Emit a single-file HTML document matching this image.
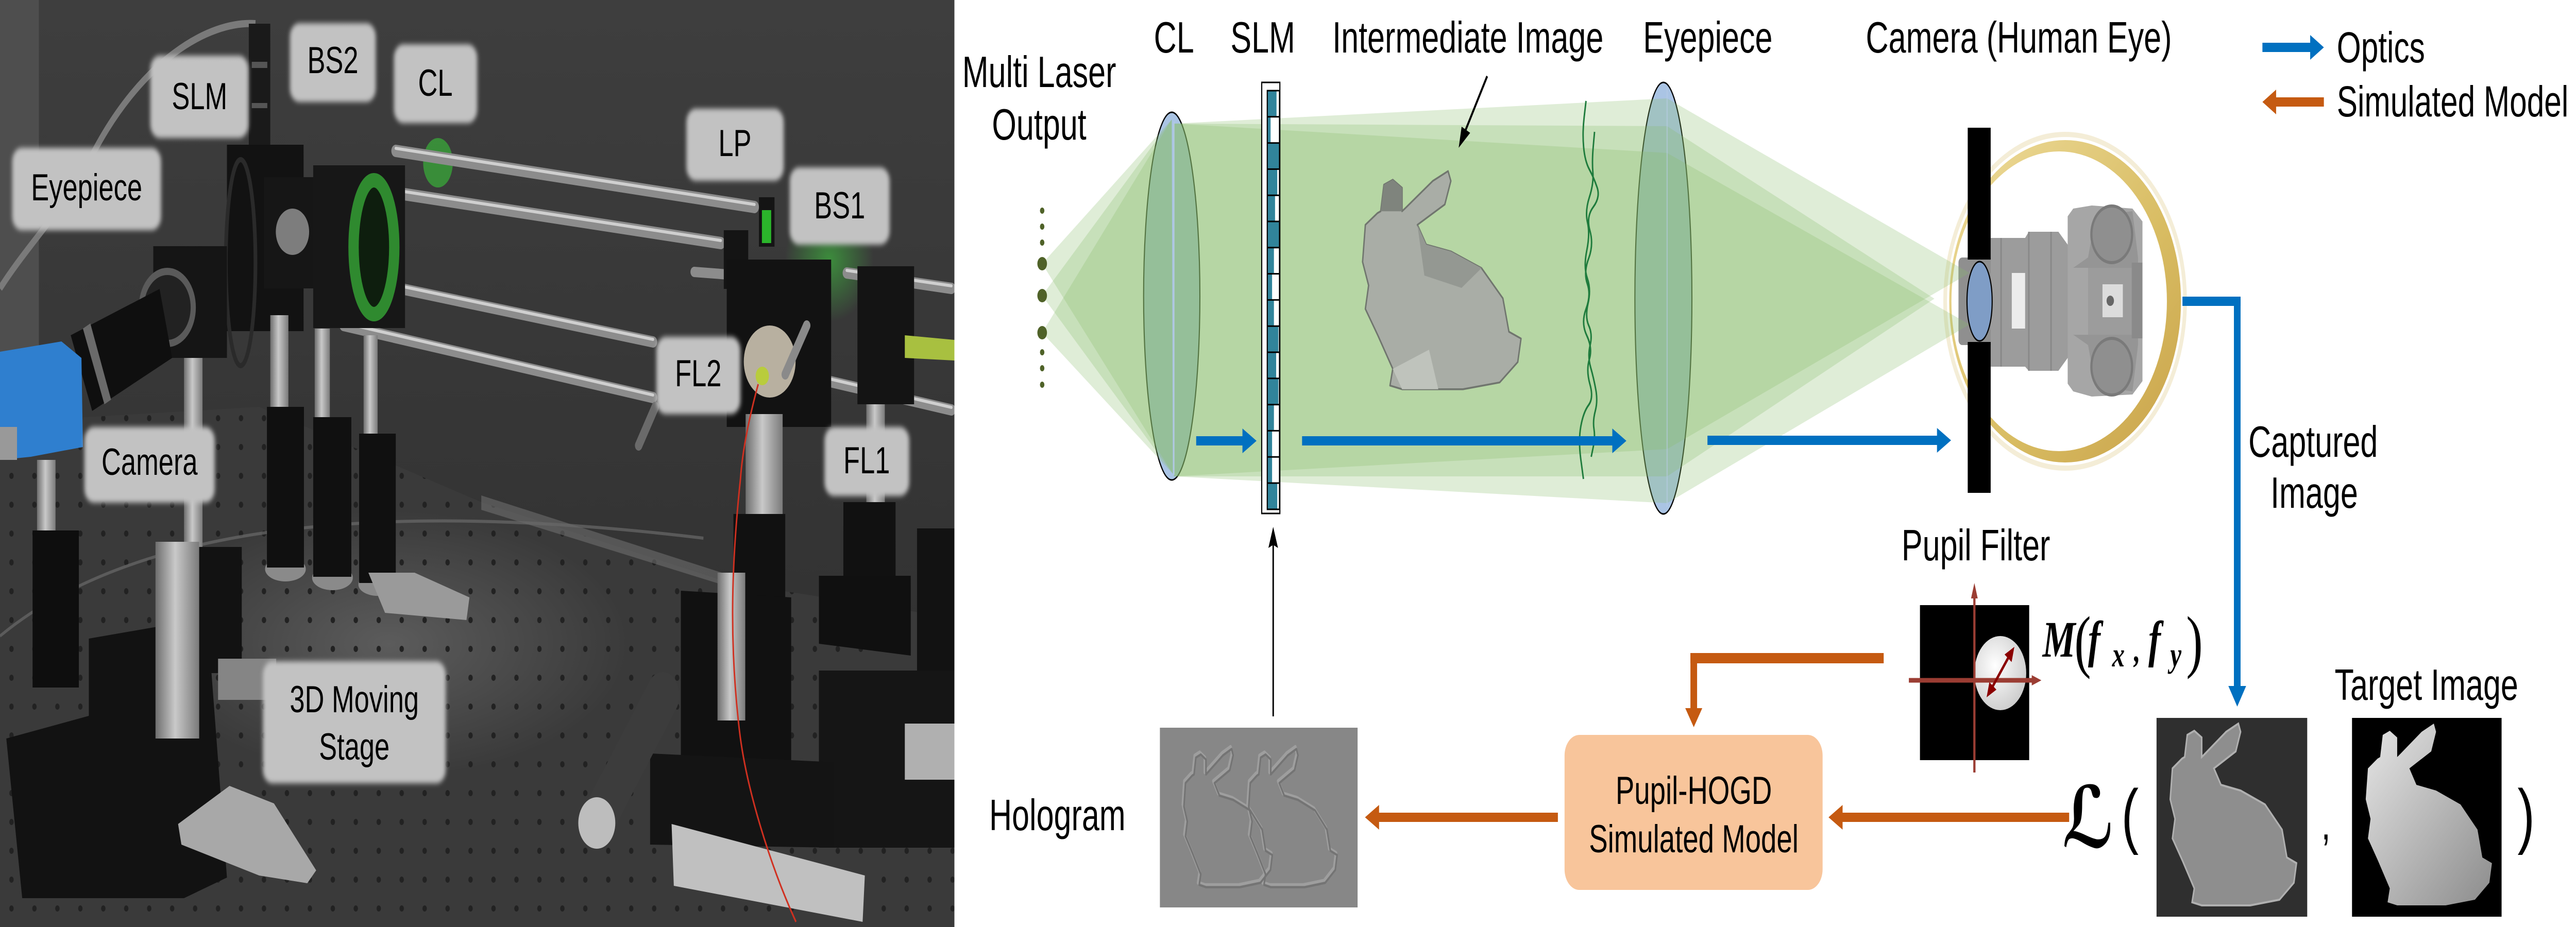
<!DOCTYPE html>
<html><head><meta charset="utf-8"><style>
html,body{margin:0;padding:0;background:#fff;width:100%;height:100%;overflow:hidden;}
svg{display:block;width:100vw;height:100vh;}
text{font-family:"Liberation Sans",Arial,sans-serif;}
</style></head><body>
<svg viewBox="0 0 6958 1800" preserveAspectRatio="none" xmlns="http://www.w3.org/2000/svg">
<defs>
<clipPath id="pc"><rect x="0" y="0" width="2578" height="1800"/></clipPath>
<pattern id="holes" width="62" height="56" patternUnits="userSpaceOnUse"><circle cx="31" cy="28" r="6" fill="#222"/></pattern>
<linearGradient id="wall" x1="0" y1="0" x2="0" y2="1"><stop offset="0" stop-color="#3e3e3e"/><stop offset="1" stop-color="#323232"/></linearGradient>
<radialGradient id="tablehl" cx=".5" cy=".5" r=".5"><stop offset="0" stop-color="#6a6a6a" stop-opacity=".7"/><stop offset="1" stop-color="#6a6a6a" stop-opacity="0"/></radialGradient>
<linearGradient id="silv" x1="0" y1="0" x2="1" y2="0"><stop offset="0" stop-color="#6e6e6e"/><stop offset=".45" stop-color="#c9c9c9"/><stop offset="1" stop-color="#7a7a7a"/></linearGradient>
<linearGradient id="gold" x1="0" y1="0" x2="1" y2="1"><stop offset="0" stop-color="#eedc9c"/><stop offset=".6" stop-color="#d8bc62"/><stop offset="1" stop-color="#c9a24a"/></linearGradient>
<radialGradient id="gglow"><stop offset="0" stop-color="#3fd13f" stop-opacity=".55"/><stop offset="1" stop-color="#3fd13f" stop-opacity="0"/></radialGradient>
<radialGradient id="pupil" cx=".4" cy=".4" r=".7"><stop offset="0" stop-color="#ffffff"/><stop offset="1" stop-color="#c8c8c8"/></radialGradient>
<linearGradient id="tbun" x1="0" y1="0" x2="1" y2="1"><stop offset="0" stop-color="#e6e6e6"/><stop offset="1" stop-color="#8c8c8c"/></linearGradient>
<filter id="soft" x="-10%" y="-10%" width="120%" height="120%"><feGaussianBlur stdDeviation="5"/></filter>
<path id="bun" d="M43,98 L69,79 L76,76 L83,33 L102,25 L122,38 L122,76 L129,71 L188,27 L221,11 L227,27 L214,65 L155,98 L174,130 L227,141 L293,168 L339,217 L352,271 L378,282 L371,320 L332,353 L253,364 L122,364 L96,358 L102,331 L70,277 L43,234 L50,196 L37,158 Z"/>
</defs>

<!-- ================= PHOTO ================= -->
<g clip-path="url(#pc)">
<rect x="0" y="0" width="2578" height="1800" fill="#303030"/>
<rect x="0" y="0" width="2578" height="1250" fill="url(#wall)"/>
<polygon points="0,0 105,0 105,760 0,800" fill="#4e4e4e"/>
<polygon points="0,820 700,790 1300,975 1963,1130 2578,1200 2578,1800 0,1800" fill="#3a3a3a"/>
<ellipse cx="1050" cy="1250" rx="650" ry="260" fill="url(#tablehl)"/>
<polygon points="0,820 700,790 1300,975 1963,1130 2578,1200 2578,1800 0,1800" fill="url(#holes)"/>
<polygon points="1300,962 1963,1115 1963,1138 1300,990" fill="#777" opacity=".5"/>
<path d="M0,1235 Q520,925 1900,1045" stroke="#6a6a6a" stroke-width="6" fill="none" opacity=".7"/>
<path d="M690,46 C560,40 380,120 250,300 C170,410 80,470 0,560" stroke="#7a7a7a" stroke-width="14" fill="none"/>
<circle cx="2240" cy="505" r="120" fill="url(#gglow)"/>
<ellipse cx="1183" cy="316" rx="40" ry="48" fill="#3a9c3a" opacity=".85"/>
<g stroke-linecap="round">
<line x1="1069" y1="293" x2="2038" y2="402" stroke="#8c8c8c" stroke-width="24"/>
<line x1="1069" y1="288" x2="2038" y2="397" stroke="#cfcfcf" stroke-width="6"/>
<line x1="912" y1="357" x2="1947" y2="472" stroke="#8c8c8c" stroke-width="24"/>
<line x1="912" y1="352" x2="1947" y2="467" stroke="#cfcfcf" stroke-width="6"/>
<line x1="1086" y1="561" x2="1764" y2="664" stroke="#8c8c8c" stroke-width="22"/>
<line x1="1086" y1="556" x2="1764" y2="659" stroke="#cfcfcf" stroke-width="6"/>
<line x1="928" y1="632" x2="1764" y2="772" stroke="#8c8c8c" stroke-width="22"/>
<line x1="928" y1="627" x2="1764" y2="767" stroke="#cfcfcf" stroke-width="6"/>
<line x1="497" y1="536" x2="854" y2="421" stroke="#8a8a8a" stroke-width="20"/>
<line x1="580" y1="606" x2="760" y2="540" stroke="#8a8a8a" stroke-width="18"/>
<line x1="2287" y1="530" x2="2570" y2="560" stroke="#8c8c8c" stroke-width="22"/>
<line x1="2287" y1="525" x2="2570" y2="555" stroke="#cfcfcf" stroke-width="6"/>
<line x1="2237" y1="740" x2="2570" y2="796" stroke="#8c8c8c" stroke-width="22"/>
<line x1="2237" y1="735" x2="2570" y2="791" stroke="#cfcfcf" stroke-width="6"/>
<line x1="1875" y1="528" x2="1965" y2="533" stroke="#8c8c8c" stroke-width="20"/>
</g>
<rect x="672" y="46" width="58" height="298" fill="#1a1a1a"/>
<rect x="680" y="120" width="42" height="12" fill="#555"/>
<rect x="680" y="200" width="42" height="10" fill="#555"/>
<rect x="613" y="281" width="207" height="362" fill="#121212"/>
<ellipse cx="650" cy="510" rx="40" ry="200" fill="none" stroke="#2a2a2a" stroke-width="10"/>
<rect x="713" y="344" width="157" height="216" fill="#161616"/>
<circle cx="790" cy="450" r="45" fill="#7d7d7d"/>
<rect x="846" y="321" width="248" height="316" fill="#171717"/>
<ellipse cx="1010" cy="480" rx="55" ry="130" fill="#0e1e0e" stroke="#2f8a2f" stroke-width="28"/>
<rect x="414" y="478" width="199" height="217" fill="#151515"/>
<circle cx="452" cy="597" r="70" fill="#222" stroke="#5a5a5a" stroke-width="14"/>
<polygon points="191,651 249,798 465,695 431,561" fill="#0f0f0f"/>
<polygon points="224,638 282,785 300,776 244,628" fill="#6a6a6a"/>
<polygon points="0,683 166,663 220,695 224,868 83,887 0,893" fill="#2f7fcf"/>
<rect x="0" y="829" width="46" height="64" fill="#999"/>
<rect x="100" y="893" width="50" height="140" fill="url(#silv)"/>
<rect x="88" y="1030" width="125" height="305" fill="#0e0e0e"/>
<rect x="497" y="695" width="50" height="385" fill="url(#silv)"/>
<rect x="535" y="1062" width="118" height="245" fill="#121212"/>
<rect x="730" y="612" width="49" height="190" fill="url(#silv)"/>
<rect x="850" y="638" width="41" height="180" fill="url(#silv)"/>
<rect x="982" y="651" width="38" height="200" fill="url(#silv)"/>
<ellipse cx="771" cy="1105" rx="55" ry="24" fill="#8a8a8a"/>
<ellipse cx="898" cy="1122" rx="55" ry="24" fill="#8a8a8a"/>
<ellipse cx="1020" cy="1135" rx="52" ry="22" fill="#8a8a8a"/>
<rect x="721" y="790" width="100" height="312" fill="#101010"/>
<rect x="846" y="810" width="103" height="310" fill="#101010"/>
<rect x="970" y="842" width="99" height="290" fill="#101010"/>
<polygon points="995,1112 1120,1112 1268,1160 1260,1204 1040,1190" fill="#9a9a9a"/>
<polygon points="17,1434 240,1390 240,1240 560,1200 613,1704 497,1744 60,1744" fill="#121212"/>
<rect x="589" y="1279" width="157" height="80" fill="#858585"/>
<rect x="420" y="1052" width="118" height="382" fill="url(#silv)"/>
<polygon points="481,1600 620,1526 740,1560 854,1690 830,1715 700,1700 490,1640" fill="#a8a8a8"/>
<rect x="1955" y="447" width="66" height="114" fill="#141414"/>
<rect x="2050" y="383" width="42" height="96" fill="#141414"/>
<rect x="2058" y="408" width="25" height="64" fill="#2bb52b"/>
<rect x="1963" y="504" width="282" height="325" fill="#121212"/>
<circle cx="2079" cy="702" r="70" fill="#b8b0a0"/>
<circle cx="2059" cy="730" r="18" fill="#b9cc3c"/>
<line x1="2179" y1="632" x2="2121" y2="727" stroke="#8a8a8a" stroke-width="20" stroke-linecap="round"/>
<line x1="1770" y1="790" x2="1725" y2="865" stroke="#6a6a6a" stroke-width="20" stroke-linecap="round"/>
<rect x="2316" y="517" width="153" height="268" fill="#141414"/>
<polygon points="2444,651 2578,660 2578,700 2444,695" fill="#a8c040"/>
<rect x="2014" y="804" width="100" height="196" fill="url(#silv)"/>
<rect x="1981" y="998" width="140" height="200" fill="#111"/>
<rect x="2340" y="785" width="50" height="190" fill="url(#silv)"/>
<rect x="2278" y="975" width="141" height="235" fill="#111"/>
<rect x="2477" y="1026" width="101" height="333" fill="#121212"/>
<polygon points="2212,1118 2460,1118 2460,1273 2212,1250" fill="#101010"/>
<rect x="2212" y="1302" width="366" height="344" fill="#151515"/>
<rect x="2444" y="1405" width="134" height="109" fill="#b0b0b0"/>
<polygon points="1839,1147 2137,1160 2137,1617 1839,1600" fill="#111"/>
<polygon points="1756,1463 2253,1480 2253,1646 1756,1640" fill="#141414"/>
<rect x="1938" y="1112" width="75" height="287" fill="url(#silv)"/>
<line x1="1610" y1="1600" x2="1790" y2="1350" stroke="#3c3c3c" stroke-width="90" stroke-linecap="round"/>
<circle cx="1612" cy="1598" r="50" fill="#bdbdbd"/>
<polygon points="1814,1600 2336,1700 2330,1790 1820,1720" fill="#c0c0c0"/>
<path d="M2048,746 C2020,820 2005,880 2000,930 C1975,1100 1970,1250 1997,1417 C2015,1530 2080,1680 2150,1790" stroke="#d03020" stroke-width="4" fill="none"/>
<g font-size="73" text-anchor="middle" fill="#000">
<rect x="406" y="108" width="265" height="160" rx="26" fill="#c2c2c2" filter="url(#soft)"/><text x="539" y="212">SLM</text>
<rect x="783" y="45" width="232" height="153" rx="26" fill="#c2c2c2" filter="url(#soft)"/><text x="899" y="142">BS2</text>
<rect x="1064" y="86" width="225" height="153" rx="26" fill="#c2c2c2" filter="url(#soft)"/><text x="1176" y="186">CL</text>
<rect x="33" y="287" width="402" height="160" rx="26" fill="#c2c2c2" filter="url(#soft)"/><text x="234" y="389">Eyepiece</text>
<rect x="1854" y="211" width="263" height="140" rx="26" fill="#c2c2c2" filter="url(#soft)"/><text x="1985" y="303">LP</text>
<rect x="2133" y="325" width="270" height="150" rx="26" fill="#c2c2c2" filter="url(#soft)"/><text x="2268" y="424">BS1</text>
<rect x="1773" y="654" width="227" height="150" rx="26" fill="#c2c2c2" filter="url(#soft)"/><text x="1886" y="750">FL2</text>
<rect x="2227" y="829" width="229" height="134" rx="26" fill="#c2c2c2" filter="url(#soft)"/><text x="2341" y="919">FL1</text>
<rect x="228" y="829" width="352" height="147" rx="26" fill="#c2c2c2" filter="url(#soft)"/><text x="404" y="922">Camera</text>
<rect x="710" y="1284" width="494" height="237" rx="26" fill="#c2c2c2" filter="url(#soft)"/><text x="957" y="1383">3D Moving</text><text x="957" y="1475">Stage</text>
</g>
</g>

<!-- ================= DIAGRAM ================= -->
<ellipse cx="3165" cy="575" rx="76" ry="357" fill="#aac4e4" stroke="#000" stroke-width="3"/>
<ellipse cx="4493" cy="579" rx="77" ry="419" fill="#aac4e4" stroke="#000" stroke-width="3"/>
<circle cx="5578" cy="585" r="324" fill="none" stroke="#efe6c6" stroke-width="10" opacity=".7"/>
<circle cx="5578" cy="585" r="313" fill="url(#gold)"/>
<circle cx="5562" cy="585" r="291" fill="#fff"/>
<rect x="5290" y="500" width="100" height="170" rx="10" fill="#8f8f8f"/>
<polygon points="5377,462 5470,462 5480,450 5560,450 5590,480 5590,690 5560,720 5480,720 5470,712 5377,712" fill="#9c9c9c"/>
<line x1="5405" y1="462" x2="5405" y2="712" stroke="#888" stroke-width="4"/>
<line x1="5480" y1="450" x2="5480" y2="720" stroke="#888" stroke-width="4"/>
<line x1="5540" y1="450" x2="5540" y2="720" stroke="#888" stroke-width="4"/>
<path d="M5585,420 L5600,405 L5650,399 L5760,405 L5787,430 L5787,740 L5760,766 L5650,770 L5600,760 L5585,745 Z" fill="#a6a6a6"/>
<path d="M5600,520 L5640,500 L5660,420 L5760,410 L5775,500 L5775,520 Z" fill="#959595"/>
<path d="M5600,650 L5640,670 L5660,750 L5760,760 L5775,670 L5775,650 Z" fill="#959595"/>
<circle cx="5704" cy="455" r="55" fill="#8f8f8f" stroke="#7a7a7a" stroke-width="6"/>
<circle cx="5704" cy="712" r="55" fill="#8f8f8f" stroke="#7a7a7a" stroke-width="6"/>
<rect x="5640" y="520" width="125" height="130" fill="#9c9c9c"/>
<rect x="5434" y="530" width="36" height="108" fill="#ececec"/>
<rect x="5679" y="552" width="55" height="64" fill="#dcdcdc"/>
<circle cx="5700" cy="584" r="10" fill="#666"/>
<rect x="5758" y="510" width="29" height="147" fill="#8a8a8a"/>

<g fill="rgb(138,188,108)" fill-opacity=".27">
<polygon points="2815,512 3165,232 3168,920"/>
<polygon points="2815,574 3165,232 3168,920"/>
<polygon points="2815,646 3165,232 3168,920"/>
<polygon points="3171,240 4503,191 4503,872 3171,925"/>
<polygon points="3171,240 4503,245 4503,925 3171,925"/>
<polygon points="3171,240 4503,297 4503,977 3171,925"/>
<polygon points="4503,191 4503,872 5320,530"/>
<polygon points="4503,245 4503,925 5225,580"/>
<polygon points="4503,297 4503,977 5320,630"/>
</g>
<line x1="3171" y1="236" x2="3171" y2="922" stroke="#b8cce6" stroke-width="3" opacity=".8"/>
<line x1="4503" y1="170" x2="4503" y2="985" stroke="#b8cce6" stroke-width="3" opacity=".6"/>
<g fill="#4f6228">
<circle cx="2815" cy="409" r="6"/><circle cx="2815" cy="440" r="6"/><circle cx="2815" cy="471" r="6"/>
<circle cx="2815" cy="512" r="13"/><circle cx="2815" cy="574" r="13"/><circle cx="2815" cy="646" r="13"/>
<circle cx="2815" cy="684" r="6"/><circle cx="2815" cy="715" r="6"/><circle cx="2815" cy="747" r="6"/>
</g>
<rect x="3408" y="160" width="49" height="837" fill="#fff" stroke="#000" stroke-width="3"/>
<g fill="#31849b">
<rect x="3423" y="176" width="25" height="50.8"/>
<rect x="3423" y="226.8" width="9" height="50.8"/>
<rect x="3423" y="277.6" width="33" height="50.8"/>
<rect x="3423" y="328.4" width="27" height="50.8"/>
<rect x="3423" y="379.2" width="21" height="50.8"/>
<rect x="3423" y="430" width="33" height="50.8"/>
<rect x="3423" y="480.8" width="18" height="50.8"/>
<rect x="3423" y="531.6" width="13" height="50.8"/>
<rect x="3423" y="582.4" width="18" height="50.8"/>
<rect x="3423" y="633.2" width="30" height="50.8"/>
<rect x="3423" y="684" width="24" height="50.8"/>
<rect x="3423" y="734.8" width="30" height="50.8"/>
<rect x="3423" y="785.6" width="18" height="50.8"/>
<rect x="3423" y="836.4" width="13" height="50.8"/>
<rect x="3423" y="887.2" width="13" height="50.8"/>
<rect x="3423" y="938" width="27" height="50.8"/>
</g>
<g stroke="#000" stroke-width="3" fill="none">
<rect x="3423" y="176" width="33" height="813"/>
<path d="M3423,226.8H3456M3423,277.6H3456M3423,328.4H3456M3423,379.2H3456M3423,430H3456M3423,480.8H3456M3423,531.6H3456M3423,582.4H3456M3423,633.2H3456M3423,684H3456M3423,734.8H3456M3423,785.6H3456M3423,836.4H3456M3423,887.2H3456M3423,938H3456"/>
</g>
<g transform="translate(3634,319) scale(1.255,1.2)">
<use href="#bun" fill="#a9ada6" stroke="#70756e" stroke-width="3" stroke-linejoin="round"/>
<polygon points="76,76 83,33 102,25 122,38 122,76" fill="#7f847d"/>
<polygon points="155,98 174,130 227,141 293,168 250,200 170,180" fill="#949892"/>
<polygon points="102,331 122,364 200,364 180,300" fill="#bfc3bc"/>
</g>
<g stroke="#1e7b3c" stroke-width="4" fill="none" stroke-linejoin="round">
<path d="M4284,196 L4279,227 Q4274,258 4277.5,285.5 Q4281,313 4293,329 Q4305,345 4314,364 Q4323,383 4303.5,402 Q4284,421 4294.5,448 Q4305,475 4291,502 Q4277,529 4287.5,551 Q4298,573 4284,600 Q4270,627 4286,651.5 Q4302,676 4293,697.5 Q4284,719 4294.5,746 Q4305,773 4291,786.5 Q4277,800 4270,827.5 Q4263,855 4270,892.5 L4277,930"/>
<path d="M4307,256 L4303.5,284.5 Q4300,313 4302.5,334.5 Q4305,356 4293,383 Q4281,410 4288,432 Q4295,454 4286,486.5 Q4277,519 4287.5,540.5 Q4298,562 4289.5,589 Q4281,616 4291.5,632.5 Q4302,649 4295,670.5 Q4288,692 4296.5,713.5 Q4305,735 4310.5,757 Q4316,779 4309,798 Q4302,817 4305.5,833 Q4309,849 4303.5,868 L4298,887"/>
</g>
<rect x="5315" y="248" width="62" height="256" fill="#000"/>
<rect x="5315" y="664" width="62" height="293" fill="#000"/>
<ellipse cx="5347" cy="585" rx="34" ry="77" fill="#7f9dc6" stroke="#000" stroke-width="3"/>
<line x1="4017" y1="148" x2="3959" y2="252" stroke="#000" stroke-width="5"/>
<polygon points="3940,287 3971,258 3948,246" fill="#000"/>
<g fill="#0070c0">
<polygon points="3231,847 3356,847 3356,832 3394,856 3356,880 3356,865 3231,865"/>
<polygon points="3517,847 4355,847 4355,832 4393,856 4355,880 4355,865 3517,865"/>
<polygon points="4612,846 5232,846 5232,831 5270,855 5232,879 5232,864 4612,864"/>
<polygon points="6111,83 6240,83 6240,68 6277,92 6240,116 6240,101 6111,101"/>
<rect x="5895" y="576" width="157" height="18"/>
<rect x="6034" y="576" width="18" height="758"/>
<polygon points="6019,1332 6067,1332 6043,1372"/>
</g>
<g fill="#c55a11">
<polygon points="6277,189 6148,189 6148,174 6111,198 6148,222 6148,207 6277,207"/>
<polygon points="5589,1578 4977,1578 4977,1563 4939,1587 4977,1611 4977,1596 5589,1596"/>
<polygon points="4208,1578 3725,1578 3725,1563 3687,1587 3725,1611 3725,1596 4208,1596"/>
<rect x="4566" y="1268" width="522" height="20"/>
<rect x="4566" y="1268" width="18" height="108"/>
<polygon points="4552,1375 4598,1375 4575,1412"/>
</g>
<line x1="3439" y1="1391" x2="3439" y2="1055" stroke="#000" stroke-width="4"/>
<polygon points="3439,1023 3452,1064 3439,1058 3426,1064" fill="#000"/>
<rect x="4226" y="1427" width="697" height="301" rx="40" fill="#f8c59b"/>
<rect x="3133" y="1413" width="534" height="349" fill="#878787"/>
<g fill="none" stroke-linejoin="round">
<use href="#bun" transform="translate(3169,1442) scale(.7,.76)" stroke="#9e9e9e" stroke-width="10"/>
<use href="#bun" transform="translate(3344,1442) scale(.7,.76)" stroke="#9e9e9e" stroke-width="10"/>
<use href="#bun" transform="translate(3172,1446) scale(.7,.76)" stroke="#747474" stroke-width="6"/>
<use href="#bun" transform="translate(3347,1446) scale(.7,.76)" stroke="#747474" stroke-width="6"/>
</g>
<rect x="5186" y="1175" width="295" height="301" fill="#000"/>
<ellipse cx="5403" cy="1307" rx="70" ry="72" fill="url(#pupil)"/>
<line x1="5333" y1="1500" x2="5333" y2="1155" stroke="#9b3d33" stroke-width="6"/>
<polygon points="5333,1132 5342,1162 5324,1162" fill="#9b3d33"/>
<line x1="5156" y1="1321" x2="5492" y2="1321" stroke="#9b3d33" stroke-width="9"/>
<polygon points="5514,1321 5488,1311 5488,1331" fill="#9b3d33"/>
<line x1="5380" y1="1336" x2="5427" y2="1274" stroke="#8b0000" stroke-width="6"/>
<polygon points="5441,1256 5433.5,1285.5 5414.5,1270.9" fill="#8b0000"/>
<polygon points="5366,1354 5392.5,1339.1 5373.5,1324.5" fill="#8b0000"/>
<rect x="5825" y="1394" width="407" height="386" fill="#2f2f2f"/>
<use href="#bun" transform="translate(5825,1394)" fill="#8e8e8e" stroke="#b0b0b0" stroke-width="4"/>
<rect x="6353" y="1394" width="404" height="386" fill="#000"/>
<use href="#bun" transform="translate(6353,1394)" fill="url(#tbun)"/>

<g font-size="85" fill="#000">
<text x="2807" y="169" text-anchor="middle">Multi Laser</text>
<text x="2807" y="271" text-anchor="middle">Output</text>
<text x="3171" y="102" text-anchor="middle">CL</text>
<text x="3411" y="102" text-anchor="middle">SLM</text>
<text x="3965" y="102" text-anchor="middle">Intermediate Image</text>
<text x="4613" y="102" text-anchor="middle">Eyepiece</text>
<text x="5453" y="102" text-anchor="middle">Camera (Human Eye)</text>
<text x="6248" y="887" text-anchor="middle">Captured</text>
<text x="6251" y="986" text-anchor="middle">Image</text>
<text x="5337" y="1088" text-anchor="middle">Pupil Filter</text>
<text x="6554" y="1359" text-anchor="middle">Target Image</text>
<text x="2856" y="1612" text-anchor="middle">Hologram</text>
</g>
<g font-size="84" fill="#000">
<text x="6312" y="121">Optics</text>
<text x="6312" y="226">Simulated Model</text>
</g>
<g font-size="76" fill="#000" text-anchor="middle">
<text x="4575" y="1561">Pupil-HOGD</text>
<text x="4575" y="1655">Simulated Model</text>
</g>
<g fill="#000" font-style="italic" font-weight="bold">
<text x="5517" y="1275" font-size="100" style="font-family:'Liberation Serif',serif">M</text>
<text x="5603" y="1290" font-size="135" font-style="normal" font-weight="normal" style="font-family:'Liberation Serif',serif">(</text>
<text x="5640" y="1275" font-size="100" style="font-family:'Liberation Serif',serif">f</text>
<text x="5705" y="1294" font-size="68" style="font-family:'Liberation Serif',serif">x</text>
<text x="5764" y="1285" font-size="70" style="font-family:'Liberation Serif',serif">,</text>
<text x="5803" y="1275" font-size="100" style="font-family:'Liberation Serif',serif">f</text>
<text x="5862" y="1294" font-size="68" style="font-family:'Liberation Serif',serif">y</text>
<text x="5905" y="1290" font-size="135" font-style="normal" font-weight="normal" style="font-family:'Liberation Serif',serif">)</text>
</g>
<text x="5570" y="1645" font-size="165" fill="#000" style="font-family:'DejaVu Serif','DejaVu Sans',serif;font-style:italic;font-weight:bold">ℒ</text>
<text x="5730" y="1631" font-size="140" fill="#000">(</text>
<text x="6270" y="1630" font-size="90" fill="#000">,</text>
<text x="6800" y="1631" font-size="140" fill="#000">)</text>
</svg>
</body></html>
